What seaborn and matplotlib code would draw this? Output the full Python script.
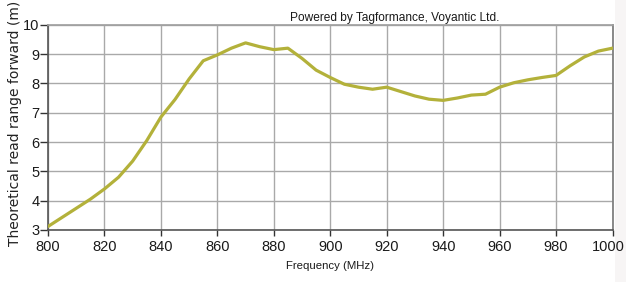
import matplotlib
matplotlib.use("Agg")
import matplotlib.pyplot as plt
import seaborn as sns
import pandas as pd
from matplotlib.patches import Rectangle
from matplotlib.transforms import ScaledTranslation

freq = [800, 805, 810, 815, 820, 825, 830, 835, 840, 845, 850, 855, 860, 865, 870,
        875, 880, 885, 890, 895, 900, 905, 910, 915, 920, 925, 930, 935, 940, 945,
        950, 955, 960, 965, 970, 975, 980, 985, 990, 995, 1000]
range_m = [3.12, 3.43, 3.74, 4.05, 4.40, 4.80, 5.35, 6.05, 6.85, 7.45, 8.15, 8.77,
           8.97, 9.20, 9.38, 9.25, 9.15, 9.20, 8.85, 8.45, 8.20, 7.97, 7.87, 7.80,
           7.87, 7.72, 7.57, 7.46, 7.42, 7.50, 7.60, 7.63, 7.87, 8.02, 8.12, 8.20,
           8.27, 8.60, 8.90, 9.10, 9.20]
x_ticks = [800, 820, 840, 860, 880, 900, 920, 940, 960, 980, 1000]
y_ticks = [3, 4, 5, 6, 7, 8, 9, 10]

df = pd.DataFrame({"Frequency (MHz)": freq, "range": range_m})

sns.set_theme(style="white")
plt.rcParams['font.family'] = ['Liberation Sans', 'DejaVu Sans']

fig = plt.figure(figsize=(6.26, 2.82), dpi=100)
fig.patch.set_facecolor("white")
fig.patches.append(Rectangle((615/626, 0), 11/626, 1, transform=fig.transFigure,
                             facecolor="#f7f5f5", edgecolor="none", zorder=-1))
ax = fig.add_axes([48/626, 1 - 230/282, (612.5 - 48)/626, (230 - 24.7)/282])

sns.lineplot(data=df, x="Frequency (MHz)", y="range", ax=ax, color="#b3b13a",
             linewidth=2.3, zorder=3)

ax.set_xlim(800, 1000)
ax.set_ylim(3, 10)
ax.set_xticks(x_ticks)
ax.set_yticks(y_ticks)
ax.grid(True, color="#a9a9a9", linewidth=1.0)
ax.set_axisbelow(True)

for s in ["left", "bottom"]:
    ax.spines[s].set_color("#555555")
    ax.spines[s].set_linewidth(1.2)
ax.spines["top"].set_color("#a0a0a0")
ax.spines["right"].set_color("#808080")
ax.spines["right"].set_linewidth(1.3)

ax.tick_params(axis="both", which="both", direction="out", width=1.0,
               color="#333333", labelsize=10.5, labelcolor="#1a1a1a",
               left=True, bottom=True)
ax.tick_params(axis="y", length=5.5, pad=0.8)
ax.tick_params(axis="x", length=4.5, pad=3)
ax.set_xlabel("Frequency (MHz)", fontsize=8.2, color="#1a1a1a", labelpad=5)
ax.set_ylabel("")
fig.text(15/626, 1 - 246/282, "Theoretical read range forward (m)", rotation=90,
         va="bottom", ha="center", fontsize=10, color="#222222", family="DejaVu Sans")
fig.text(395/626, 1 - 18/282, "Powered by Tagformance, Voyantic Ltd.",
         ha="center", va="center", fontsize=8.6, color="#1a1a1a")

fig.canvas.draw()
r = fig.canvas.get_renderer()
last = ax.get_xticklabels()[-1]
bb = last.get_window_extent(r)
overflow = bb.x1 - (fig.bbox.width - 1)
if overflow > 0:
    last.set_transform(last.get_transform() + ScaledTranslation(-overflow / 100, 0, fig.dpi_scale_trans))

fig.savefig("out.png", dpi=100)
